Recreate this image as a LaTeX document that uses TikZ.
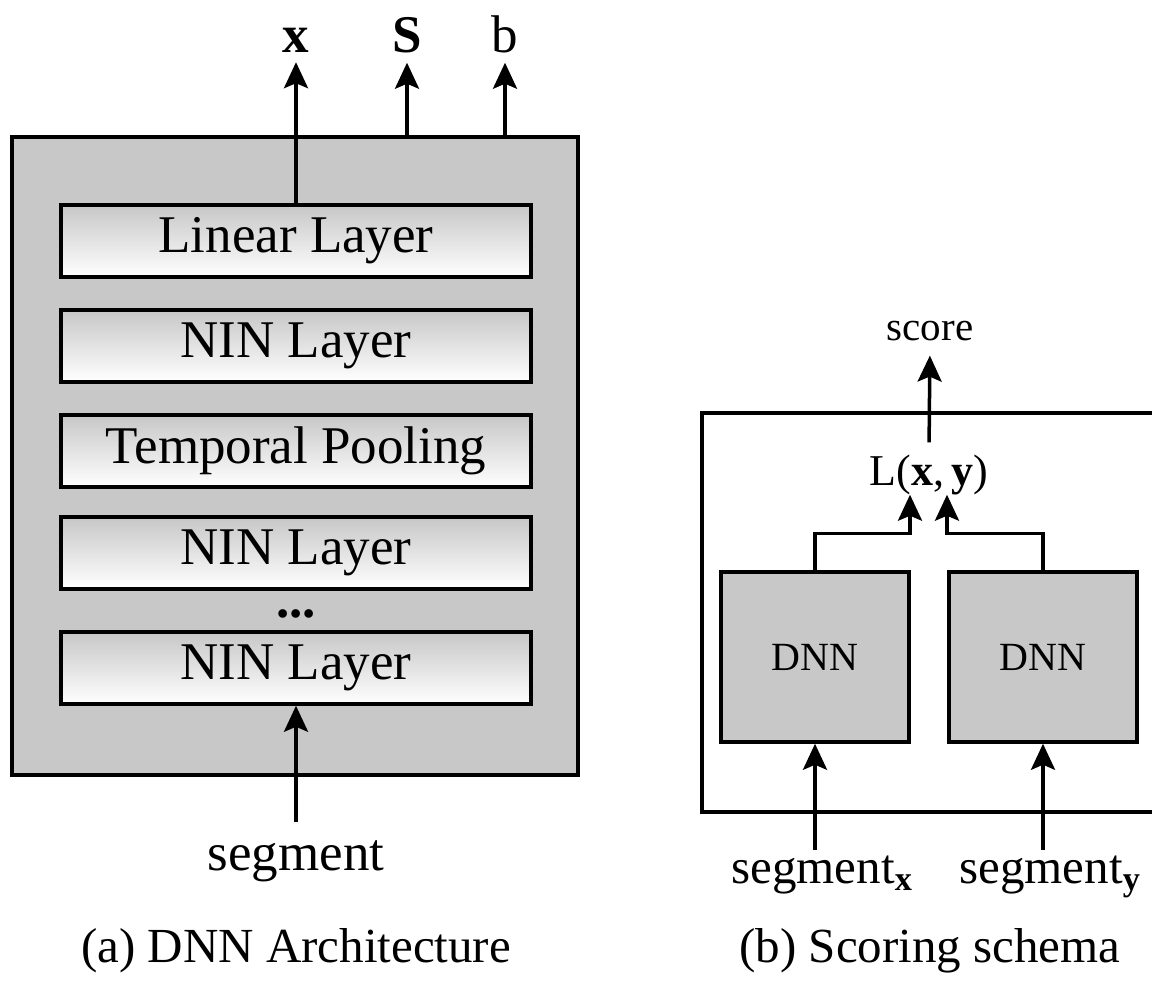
\documentclass[tikz,border=0pt]{standalone}
\usepackage{fontspec}
\setmainfont{Liberation Serif}
\usetikzlibrary{arrows.meta,calc,positioning}
\definecolor{boxgray}{RGB}{200,200,200}

\begin{document}
\begin{tikzpicture}[x=1pt,y=-1pt,>={Stealth[length=26pt,width=24pt,inset=5pt]},
  layer/.style={draw,line width=3.5pt,top color=black!22,bottom color=white,minimum width=470pt,minimum height=72pt,inner sep=0pt,font=\fontsize{53}{60}\selectfont},
  dnnbox/.style={draw,line width=3.5pt,fill=boxgray,minimum width=188pt,minimum height=170pt,font=\fontsize{40}{48}\selectfont},
  lbl/.style={inner sep=0pt,anchor=base,font=\fontsize{#1}{#1}\selectfont},lbl/.default=53,
  flow/.style={->,line width=3.5pt}]
  \useasboundingbox (0,0) rectangle (1152,983);
  % (a) architecture
  \node[draw,line width=4pt,fill=boxgray,minimum width=566pt,minimum height=638pt] (dnn) at (295,456) {};
  \foreach \n/\y/\t in {lin/241/Linear Layer,nin1/346/NIN Layer,pool/451/Temporal Pooling,nin2/553/NIN Layer,nin3/668/NIN Layer}
    \node[layer] (\n) at (296,\y) {\t};
  \node[lbl] (dots) at (296,617) {\textbf{...}};
  \node[lbl] (xout) at (296,52) {\textbf{x}};
  \node[lbl] (sout) at (407,52) {\textbf{S}};
  \node[lbl] (bout) at (505,52) {b};
  \draw[flow,shorten >=10pt] (lin.north) -- (xout.south);
  \draw[flow,shorten >=10pt] (sout |- dnn.north) -- (sout.south);
  \draw[flow,shorten >=10pt] (bout |- dnn.north) -- (bout.south);
  \node[lbl] (seg) at (296,870) {segment};
  \draw[flow,shorten <=18pt] (seg.north) -- (nin3.south);
  \node[lbl=49] (capa) at (296,962) {(a) DNN Architecture};
  % (b) scoring
  \draw[line width=4pt] (1160,413) -- (702,413) -- (702,812) -- (1160,812);
  \node[dnnbox] (dnnx) at (815,657) {DNN};
  \node[dnnbox] (dnny) at (1043,657) {DNN};
  \node[lbl=44] (loss) at (929,485) {L(\textbf{x},\,\textbf{y})};
  \node[lbl=41] (score) at (930,340) {score};
  \draw[flow,shorten <=12pt,shorten >=15pt] (loss.north) -- (score.south);
  \draw[flow] (dnnx.north) -- ++(0,-37) -| ([xshift=-19pt]loss.south);
  \draw[flow] (dnny.north) -- ++(0,-37) -| ([xshift=18pt]loss.south);
  \node[lbl=49] (segx) at (822,883) {segment\textsubscript{\textbf{x}}};
  \node[lbl=49] (segy) at (1050,883) {segment\textsubscript{\textbf{y}}};
  \draw[flow,shorten <=5pt] (segx.north -| dnnx) -- (dnnx.south);
  \draw[flow,shorten <=5pt] (segy.north -| dnny) -- (dnny.south);
  \node[lbl=49] (capb) at (930,962) {(b) Scoring schema};
\end{tikzpicture}
\end{document}
